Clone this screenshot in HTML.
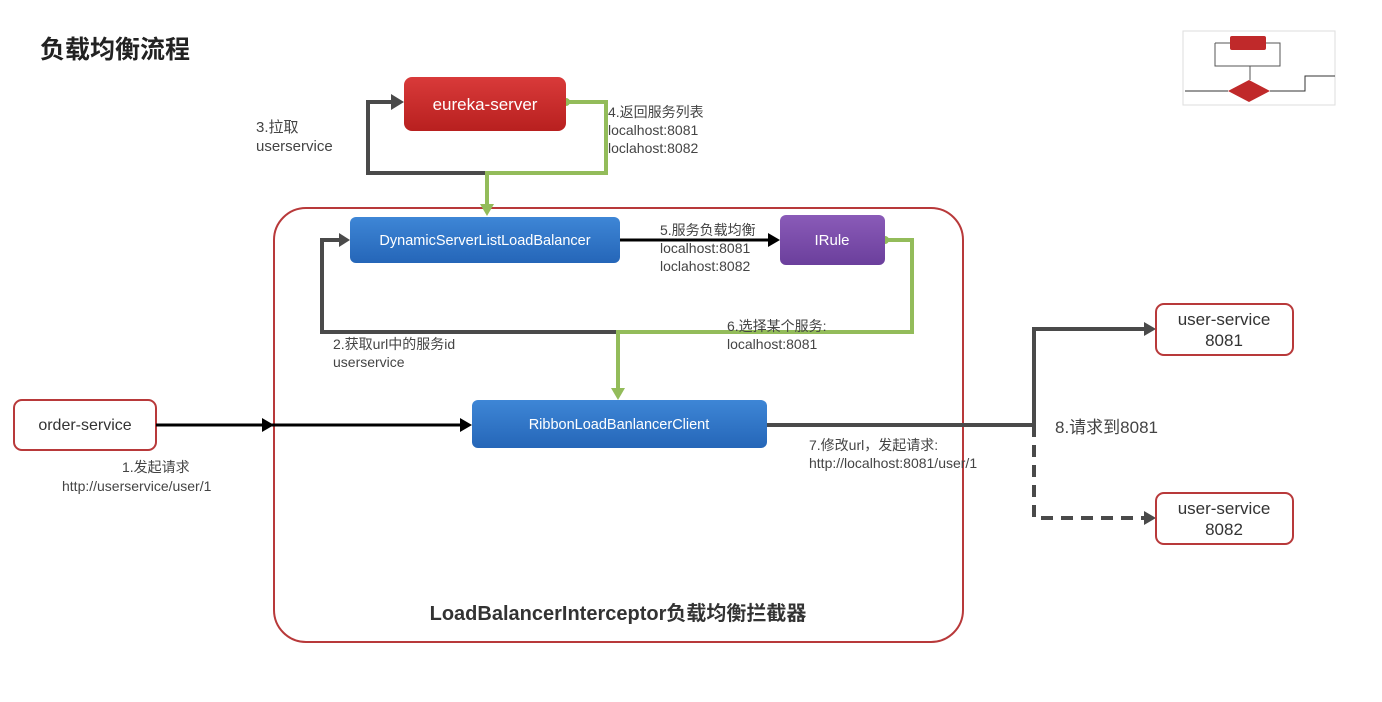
<!DOCTYPE html>
<html><head><meta charset="utf-8"><style>
html,body{margin:0;padding:0;background:#fff;}
svg{display:block;font-family:"Liberation Sans","Noto Sans CJK SC",sans-serif;}
</style></head><body>
<svg width="1382" height="702" viewBox="0 0 1382 702" xmlns="http://www.w3.org/2000/svg">
<defs>
<linearGradient id="gr" x1="0" y1="0" x2="0" y2="1"><stop offset="0" stop-color="#d93a3a"/><stop offset="1" stop-color="#b8201f"/></linearGradient>
<linearGradient id="gb" x1="0" y1="0" x2="0" y2="1"><stop offset="0" stop-color="#3e86d6"/><stop offset="1" stop-color="#2566b8"/></linearGradient>
<linearGradient id="gp" x1="0" y1="0" x2="0" y2="1"><stop offset="0" stop-color="#8a5bb8"/><stop offset="1" stop-color="#6b3f9c"/></linearGradient>
</defs>
<text x="40" y="58" font-size="25" font-weight="bold" fill="#222">负载均衡流程</text>
<!-- thumbnail -->
<rect x="1183" y="31" width="152" height="74" fill="#fff" stroke="#ddd"/>
<rect x="1230" y="36" width="36" height="14" rx="2" fill="#c0292a"/>
<path d="M1215 43 H1230 M1215 43 V66 H1250 M1266 43 H1280 V66 H1250 V80" stroke="#555" fill="none" stroke-width="1"/>
<polygon points="1249,80 1270,91 1249,102 1228,91" fill="#c0292a"/>
<path d="M1185 91 H1228 M1270 91 H1305 V76 H1335" stroke="#333" fill="none" stroke-width="1"/>
<!-- outer interceptor -->
<rect x="274" y="208" width="689" height="434" rx="32" fill="none" stroke="#b8393a" stroke-width="2"/>
<!-- gray loop eureka -->
<path d="M487 173 H368 V102 H396" stroke="#4a4a4a" stroke-width="4" fill="none"/>
<polygon points="404,102 391,94 391,110" fill="#4a4a4a"/>
<!-- green return -->
<path d="M566 102 H606 V173 H487 V208" stroke="#93bc5a" stroke-width="4" fill="none"/>
<polygon points="487,216 480,204 494,204" fill="#93bc5a"/>
<circle cx="566" cy="102" r="4" fill="#93bc5a"/>
<!-- eureka -->
<rect x="404" y="77" width="162" height="54" rx="8" fill="url(#gr)"/>
<text x="485" y="110" font-size="17" fill="#fff" text-anchor="middle">eureka-server</text>
<text x="256" y="132" font-size="15" fill="#444">3.拉取</text>
<text x="256" y="151" font-size="15" fill="#444">userservice</text>
<text x="608" y="117" font-size="14" fill="#444">4.返回服务列表</text>
<text x="608" y="135" font-size="14" fill="#444">localhost:8081</text>
<text x="608" y="153" font-size="14" fill="#444">loclahost:8082</text>
<!-- gray loop 2 -->
<path d="M618 332 H322 V240 H344" stroke="#4a4a4a" stroke-width="4" fill="none"/>
<polygon points="350,240 339,233 339,247" fill="#4a4a4a"/>
<!-- green from IRule -->
<path d="M885 240 H912 V332 H618 V392" stroke="#93bc5a" stroke-width="4" fill="none"/>
<polygon points="618,400 611,388 625,388" fill="#93bc5a"/>
<circle cx="885" cy="240" r="4" fill="#93bc5a"/>
<!-- DSLLB -->
<rect x="350" y="217" width="270" height="46" rx="6" fill="url(#gb)"/>
<text x="485" y="245" font-size="14.5" fill="#fff" text-anchor="middle">DynamicServerListLoadBalancer</text>
<path d="M620 240 H772" stroke="#000" stroke-width="3"/>
<polygon points="780,240 768,233 768,247" fill="#000"/>
<rect x="780" y="215" width="105" height="50" rx="6" fill="url(#gp)"/>
<text x="832" y="245" font-size="15" fill="#fff" text-anchor="middle">IRule</text>
<text x="660" y="235" font-size="14" fill="#444">5.服务负载均衡</text>
<text x="660" y="253" font-size="14" fill="#444">localhost:8081</text>
<text x="660" y="271" font-size="14" fill="#444">loclahost:8082</text>
<text x="727" y="331" font-size="14" fill="#444">6.选择某个服务:</text>
<text x="727" y="349" font-size="14" fill="#444">localhost:8081</text>
<text x="333" y="349" font-size="14" fill="#444">2.获取url中的服务id</text>
<text x="333" y="367" font-size="14" fill="#444">userservice</text>
<!-- order-service -->
<rect x="14" y="400" width="142" height="50" rx="8" fill="#fff" stroke="#b8393a" stroke-width="2"/>
<text x="85" y="430" font-size="16" fill="#333" text-anchor="middle">order-service</text>
<path d="M156 425 H464" stroke="#000" stroke-width="3"/>
<polygon points="274,425 262,418 262,432" fill="#000"/>
<polygon points="472,425 460,418 460,432" fill="#000"/>
<text x="122" y="472" font-size="14" fill="#444">1.发起请求</text>
<text x="62" y="491" font-size="14" fill="#444">http://userservice/user/1</text>
<!-- ribbon -->
<rect x="472" y="400" width="295" height="48" rx="6" fill="url(#gb)"/>
<text x="619" y="429" font-size="14.5" fill="#fff" text-anchor="middle">RibbonLoadBanlancerClient</text>
<!-- request lines -->
<path d="M767 425 H1034 V329 H1148" stroke="#4a4a4a" stroke-width="4" fill="none"/>
<polygon points="1156,329 1144,322 1144,336" fill="#4a4a4a"/>
<path d="M1034 425 V518 H1148" stroke="#4a4a4a" stroke-width="4" fill="none" stroke-dasharray="12,8"/>
<polygon points="1156,518 1144,511 1144,525" fill="#4a4a4a"/>
<text x="809" y="450" font-size="14" fill="#444">7.修改url，发起请求:</text>
<text x="809" y="468" font-size="14" fill="#444">http://localhost:8081/user/1</text>
<text x="1055" y="433" font-size="17" fill="#444">8.请求到8081</text>
<rect x="1156" y="304" width="137" height="51" rx="8" fill="#fff" stroke="#b8393a" stroke-width="2"/>
<text x="1224" y="325" font-size="17" fill="#333" text-anchor="middle">user-service</text>
<text x="1224" y="346" font-size="17" fill="#333" text-anchor="middle">8081</text>
<rect x="1156" y="493" width="137" height="51" rx="8" fill="#fff" stroke="#b8393a" stroke-width="2"/>
<text x="1224" y="514" font-size="17" fill="#333" text-anchor="middle">user-service</text>
<text x="1224" y="535" font-size="17" fill="#333" text-anchor="middle">8082</text>
<text x="618" y="620" font-size="20" font-weight="bold" fill="#333" text-anchor="middle">LoadBalancerInterceptor负载均衡拦截器</text>
</svg>
</body></html>
